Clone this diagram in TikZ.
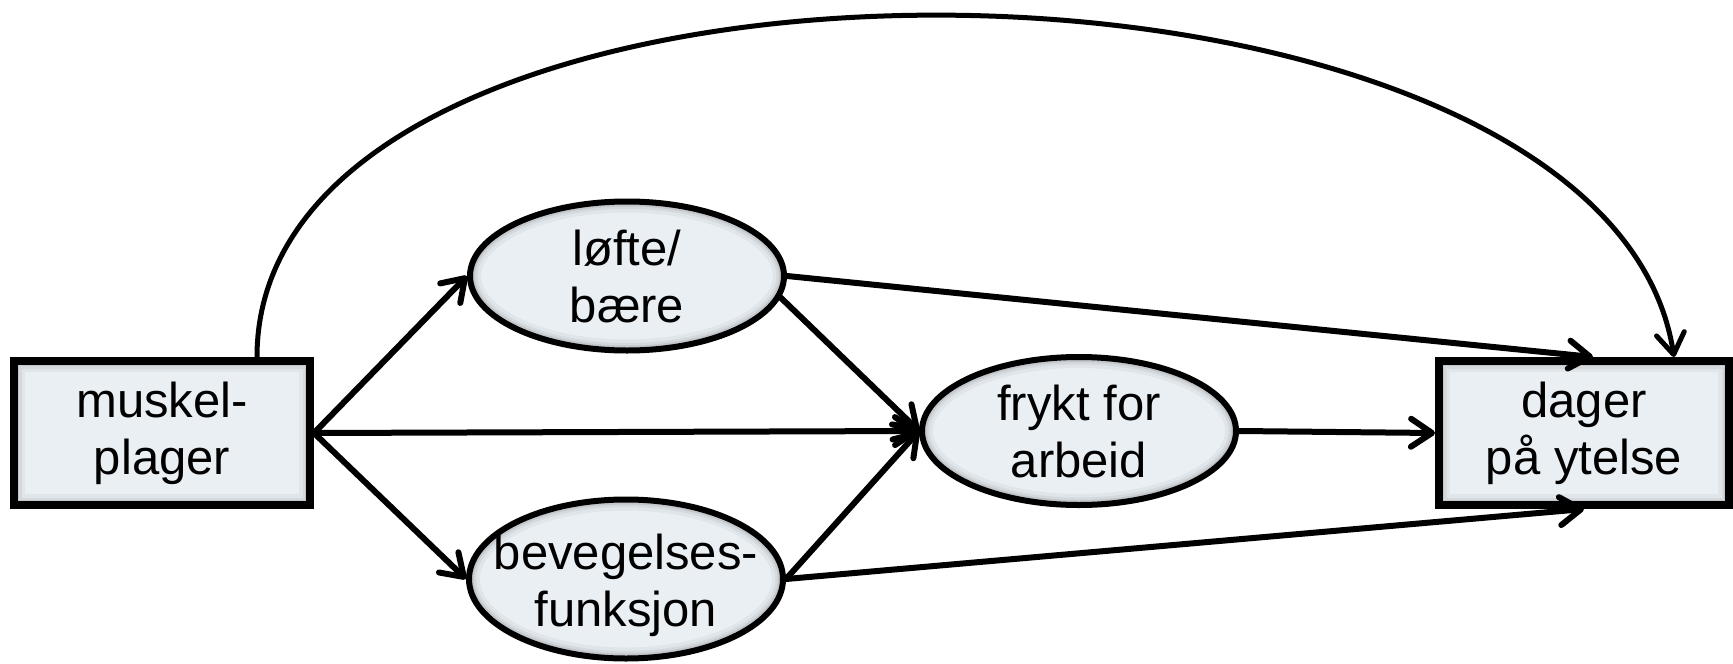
\documentclass[tikz,border=0pt]{standalone}
\usepackage{fontspec}
\setmainfont{Liberation Sans}
\usetikzlibrary{arrows.meta,shapes.geometric,calc}
\definecolor{boxfill}{RGB}{234,239,244}

\tikzset{
  x=1pt, y=-1pt,
  txt/.style={font=\fontsize{49}{57}\selectfont, align=center, text=black},
  % soft inner shade along the border of a rectangle
  inner shade rect/.style={path picture={
    \foreach \w/\o in {22/0.04,15/0.05,10/0.08,5/0.12}
      \draw[black, opacity=\o, line width=\w pt]
        (path picture bounding box.south west) rectangle (path picture bounding box.north east);}},
  % soft inner shade along the border of an ellipse
  inner shade oval/.style={path picture={
    \foreach \w/\o in {22/0.04,15/0.05,10/0.08,5/0.12}
      \draw[black, opacity=\o, line width=\w pt]
        let \p1=($(path picture bounding box.north east)-(path picture bounding box.center)$) in
        (path picture bounding box.center) ellipse [x radius=\x1, y radius=\y1];}},
  boxnode/.style={rectangle, draw, line width=8pt, fill=boxfill, inner sep=0pt,
    minimum width=#1, minimum height=144pt, inner shade rect, txt},
  ovalnode/.style={ellipse, draw, line width=6pt, fill=boxfill, inner sep=0pt,
    minimum width=314pt, minimum height=#1, inner shade oval},
  conn/.style={line width=6pt, line cap=round,
    -{Straight Barb[length=21pt,width=28pt,round]}},
}

\begin{document}
\begin{tikzpicture}
\useasboundingbox (0,0) rectangle (1733,664);

% nodes
\node[boxnode=296pt] (m) at (162,433) {muskel-\\plager};
\node[boxnode=290pt] (d) at (1584,433) {dager\\på ytelse};
\node[ovalnode=149pt, label={[txt]center:{løfte/\\bære}}] (l) at (627,276) {};
\node[ovalnode=159pt, label={[txt, yshift=-6pt]center:{bevegelses-\\funksjon}}] (b) at (626,579) {};
\node[ovalnode=148pt, label={[txt]center:{frykt for\\arbeid}}] (f) at (1079,431) {};

% connectors
\draw[conn] (m.east) -- (l.west);
\draw[conn] (m.east) -- (f.west);
\draw[conn] (m.east) -- (b.west);
\draw[conn] (l.east) -- ([xshift=9pt]d.north);
\draw[conn] (l.-8) -- (f.west);
\draw[conn] (b.east) -- (f.west);
\draw[conn] (b.east) -- (d.south);
\draw[conn] (f.east) -- (d.west);
\draw[conn, line width=5pt] ([xshift=95pt]m.north) .. controls +(0,-460) and +(-70,-450) .. ([xshift=90pt]d.north);
\end{tikzpicture}
\end{document}
